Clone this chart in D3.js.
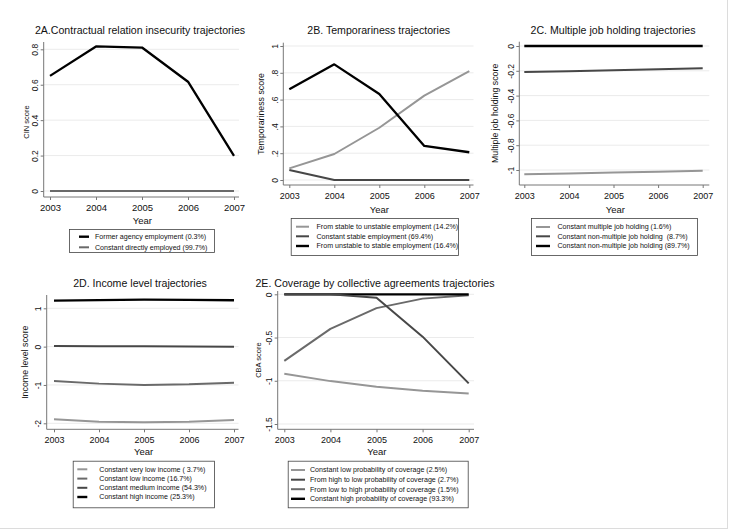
<!DOCTYPE html>
<html>
<head>
<meta charset="utf-8">
<script src="https://cdn.jsdelivr.net/npm/d3@7"></script>
<style>
html,body{margin:0;padding:0;background:#fff;}
svg{display:block;font-family:"Liberation Sans",Arial,sans-serif;}
text{white-space:pre;}
</style>
</head>
<body>
<svg id="chart" width="729" height="530"></svg>
<script>
// ---------- DATA ----------
const years = [2003, 2004, 2005, 2006, 2007];

// 2A
const aTitle = "2A.Contractual relation insecurity trajectories";
const aYLabel = "CIN score";
const aTicks = [0, 0.2, 0.4, 0.6, 0.8];
const aTickLabels = ["0", "0.2", "0.4", "0.6", "0.8"];
const aFormerAgency = [0.65, 0.816, 0.81, 0.617, 0.198];
const aDirect = [0, 0, 0, 0, 0];
const aLegend = ["Former agency employment (0.3%)", "Constant directly employed (99.7%)"];

// 2B
const bTitle = "2B. Temporariness trajectories";
const bYLabel = "Temporariness score";
const bTicks = [0, 0.2, 0.4, 0.6, 0.8, 1];
const bTickLabels = ["0", ".2", ".4", ".6", ".8", "1"];
const bStableToUnstable = [0.087, 0.194, 0.39, 0.63, 0.813];
const bConstantStable = [0.075, 0, 0, 0, 0];
const bUnstableToStable = [0.677, 0.863, 0.642, 0.254, 0.207];
const bLegend = ["From stable to unstable employment (14.2%)", "Constant stable employment (69.4%)", "From unstable to stable employment (16.4%)"];

// 2C
const cTitle = "2C. Multiple job holding trajectories";
const cYLabel = "Multiple job holding score";
const cTicks = [0, -0.2, -0.4, -0.6, -0.8, -1];
const cTickLabels = ["0", "-0.2", "-0.4", "-0.6", "-0.8", "-1"];
const cMultiple = [-1.035, -1.028, -1.021, -1.014, -1.006];
const cNonMultipleSmall = [-0.21, -0.203, -0.196, -0.188, -0.18];
const cNonMultipleLarge = [0, 0, 0, 0, 0];
const cLegend = ["Constant multiple job holding (1.6%)", "Constant non-multiple job holding  (8.7%)", "Constant non-multiple job holding (89.7%)"];

// 2D
const dTitle = "2D. Income level trajectories";
const dYLabel = "Income level score";
const dTicks = [1, 0, -1, -2];
const dTickLabels = ["1", "0", "-1", "-2"];
const dVeryLow = [-1.896, -1.957, -1.974, -1.957, -1.913];
const dLow = [-0.896, -0.965, -1.0, -0.983, -0.94];
const dMedium = [0.017, 0.012, 0.008, 0.004, 0.0];
const dHigh = [1.2, 1.215, 1.226, 1.22, 1.21];
const dLegend = ["Constant very low income ( 3.7%)", "Constant low income (16.7%)", "Constant medium income (54.3%)", "Constant high income (25.3%)"];

// 2E
const eTitle = "2E. Coverage by collective agreements trajectories";
const eYLabel = "CBA score";
const eTicks = [0, -0.5, -1, -1.5];
const eTickLabels = ["0", "-0.5", "-1", "-1.5"];
const eLowProb = [-0.919, -1.004, -1.07, -1.116, -1.147];
const eHighToLow = [0, 0, -0.04, -0.49, -1.03];
const eLowToHigh = [-0.77, -0.40, -0.16, -0.05, -0.01];
const eHighProb = [0, 0, 0, 0, 0];
const eLegend = ["Constant low probability of coverage (2.5%)", "From high to low probability of coverage (2.7%)", "From low to high probability of coverage (1.5%)", "Constant high probability of coverage (93.3%)"];

// ---------- STYLE ----------
const C_BLACK = "#000", C_DARK = "#474747", C_MID = "#6a6a6a", C_LIGHT = "#969696";

const panels = [
  { title: aTitle, ylab: aYLabel, ticks: aTicks, tickLabels: aTickLabels,
    series: [aFormerAgency, aDirect], colors: [C_BLACK, C_MID], drawOrder: [1, 0],
    legend: aLegend,
    layout: { x0: 50, x1: 234, yv: [0, 0.8], yp: [191, 49.3], left: 43.7, right: 239, top: 42, bottom: 197,
      titleX: 140, titleY: 34, yTitleX: 26, yTitleY: 122, yTitleFont: 7.5, xTickY: 208, xTitleY: 223.5, yTickFont: 8.5, xTickFont: 9.5,
      leg: { x0: 69, x1: 214, y0: 229, y1: 252, keyX0: 79, keyX1: 89, textX: 95, rowY: [236.7, 247.3] } } },
  { title: bTitle, ylab: bYLabel, ticks: bTicks, tickLabels: bTickLabels,
    series: [bStableToUnstable, bConstantStable, bUnstableToStable], colors: [C_LIGHT, C_DARK, C_BLACK], drawOrder: [1, 0, 2],
    legend: bLegend,
    layout: { x0: 289.3, x1: 469.3, yv: [0, 1], yp: [180, 46], left: 283.3, right: 473.5, top: 42.7, bottom: 185,
      titleX: 378.7, titleY: 34, yTitleX: 261, yTitleY: null, yTitleFont: 8.8, xTickY: 195.5, xTitleY: 212.5, yTickFont: 8.5, xTickFont: 9,
      leg: { x0: 290.7, x1: 458, y0: 218, y1: 255, keyX0: 296, keyX1: 309, textX: 316.5, rowY: [226.7, 236.3, 246] } } },
  { title: cTitle, ylab: cYLabel, ticks: cTicks, tickLabels: cTickLabels,
    series: [cMultiple, cNonMultipleSmall, cNonMultipleLarge], colors: [C_LIGHT, C_DARK, C_BLACK], drawOrder: [0, 1, 2],
    legend: cLegend,
    layout: { x0: 524.3, x1: 702.7, yv: [0, -1], yp: [46, 170], left: 519.3, right: 709.3, top: 41.7, bottom: 185,
      titleX: 613, titleY: 34, yTitleX: 495, yTitleY: null, yTitleFont: 8.8, xTickY: 196, xTitleY: 212.5, yTickFont: 8.5, xTickFont: 9,
      leg: { x0: 531, x1: 697, y0: 218, y1: 255, keyX0: 536, keyX1: 550, textX: 557.5, rowY: [227, 236.3, 246] } } },
  { title: dTitle, ylab: dYLabel, ticks: dTicks, tickLabels: dTickLabels,
    series: [dVeryLow, dLow, dMedium, dHigh], colors: [C_LIGHT, C_MID, C_DARK, C_BLACK], drawOrder: [0, 1, 2, 3],
    legend: dLegend,
    layout: { x0: 54, x1: 234, yv: [1, -2], yp: [308.3, 423.3], left: 46.7, right: 238.5, top: 295, bottom: 429.3,
      titleX: 140, titleY: 287, yTitleX: 25, yTitleY: null, yTitleFont: 8.8, xTickY: 440, xTitleY: 455, yTickFont: 8.5, xTickFont: 9,
      leg: { x0: 72.7, x1: 214, y0: 460.7, y1: 507.3, keyX0: 77.3, keyX1: 87.3, textX: 99.3, rowY: [469.3, 478.6, 487.8, 497] } } },
  { title: eTitle, ylab: eYLabel, ticks: eTicks, tickLabels: eTickLabels,
    series: [eLowProb, eHighToLow, eLowToHigh, eHighProb], colors: [C_LIGHT, C_DARK, C_MID, C_BLACK], drawOrder: [0, 2, 3, 1],
    legend: eLegend,
    layout: { x0: 284.3, x1: 468.7, yv: [0, -1.5], yp: [294.3, 424], left: 277.7, right: 474, top: 291, bottom: 429.3,
      titleX: 375, titleY: 287, yTitleX: 258, yTitleY: null, yTitleFont: 7.5, xTickY: 440, xTitleY: 455, yTickFont: 8.5, xTickFont: 9,
      leg: { x0: 287.7, x1: 467.7, y0: 460.7, y1: 507.3, keyX0: 291, keyX1: 305, textX: 310, rowY: [470, 479.7, 489.2, 498.8] } } }
];

const svg = d3.select("#chart");
svg.append("rect").attr("width", 729).attr("height", 530).attr("fill", "#fff");

// faint outer frame (right & bottom)
svg.append("line").attr("x1", 727.5).attr("x2", 727.5).attr("y1", 0).attr("y2", 529).attr("stroke", "#dcdcdc");
svg.append("line").attr("x1", 0).attr("x2", 728).attr("y1", 528.5).attr("y2", 528.5).attr("stroke", "#dcdcdc");

panels.forEach(p => {
  const L = p.layout;
  const g = svg.append("g");

  // scales
  const xs = d3.scaleLinear().domain([years[0], years[years.length - 1]]).range([L.x0, L.x1]);
  const xFull = d3.scaleLinear().domain([xs.invert(L.left), xs.invert(L.right)]).range([L.left, L.right]);
  const ys0 = d3.scaleLinear().domain(L.yv).range(L.yp);
  const ys = d3.scaleLinear().domain([ys0.invert(L.bottom), ys0.invert(L.top)]).range([L.bottom, L.top]);

  // grid lines
  g.append("g").selectAll("line").data(p.ticks).join("line")
    .attr("x1", L.left).attr("x2", L.right)
    .attr("y1", d => ys(d)).attr("y2", d => ys(d))
    .attr("stroke", "#ebebeb").attr("stroke-width", 1);

  // x axis
  const xAxis = d3.axisBottom(xFull).tickValues(years).tickFormat(d3.format("d")).tickSize(3).tickPadding(3);
  const gx = g.append("g").attr("transform", `translate(0,${L.bottom})`).call(xAxis);
  gx.select(".domain").attr("stroke", "#777").attr("d", `M${L.left},0H${L.right}`);
  gx.selectAll(".tick line").attr("stroke", "#777");
  gx.selectAll(".tick text").attr("fill", "#111").attr("font-size", L.xTickFont)
    .attr("font-family", "Liberation Sans, Arial, sans-serif")
    .attr("y", L.xTickY - L.bottom).attr("dy", "0.35em");

  // y axis
  const yAxis = d3.axisLeft(ys).tickValues(p.ticks).tickFormat((d, i) => p.tickLabels[i]).tickSize(3).tickPadding(3);
  const gy = g.append("g").attr("transform", `translate(${L.left},0)`).call(yAxis);
  gy.select(".domain").attr("stroke", "#777").attr("d", `M0,${L.top}V${L.bottom}`);
  gy.selectAll(".tick line").attr("stroke", "#777");
  gy.selectAll(".tick text").attr("fill", "#111").attr("font-size", L.yTickFont)
    .attr("font-family", "Liberation Sans, Arial, sans-serif")
    .attr("x", 0).attr("y", -5.5).attr("dy", null)
    .attr("text-anchor", "middle")
    .attr("transform", "rotate(-90)");

  // axis titles
  g.append("text").attr("x", (L.left + L.right) / 2 + 1).attr("y", L.xTitleY)
    .attr("text-anchor", "middle").attr("font-size", 9.5).attr("fill", "#111").text("Year");
  const yty = L.yTitleY != null ? L.yTitleY : (L.top + L.bottom) / 2;
  g.append("text")
    .attr("transform", `translate(${L.yTitleX},${yty}) rotate(-90)`)
    .attr("text-anchor", "middle").attr("dy", "0.35em").attr("font-size", L.yTitleFont).attr("fill", "#111").text(p.ylab);

  // title
  g.append("text").attr("x", L.titleX).attr("y", L.titleY).attr("text-anchor", "middle")
    .attr("font-size", 10.6).attr("fill", "#111").text(p.title);

  // lines
  const line = d3.line().x((d, i) => xs(years[i])).y(d => ys(d));
  p.drawOrder.forEach(k => {
    g.append("path").datum(p.series[k]).attr("d", line)
      .attr("fill", "none").attr("stroke", p.colors[k])
      .attr("stroke-width", p.colors[k] === C_BLACK ? 2.3 : 2)
      .attr("stroke-linejoin", "round");
  });

  // legend
  const lg = L.leg;
  g.append("rect").attr("x", lg.x0 + 0.5).attr("y", lg.y0 + 0.5)
    .attr("width", lg.x1 - lg.x0).attr("height", lg.y1 - lg.y0)
    .attr("fill", "#fff").attr("stroke", "#444").attr("stroke-width", 0.8);
  p.legend.forEach((lab, i) => {
    g.append("line").attr("x1", lg.keyX0).attr("x2", lg.keyX1)
      .attr("y1", lg.rowY[i]).attr("y2", lg.rowY[i])
      .attr("stroke", p.colors[i]).attr("stroke-width", p.colors[i] === C_BLACK ? 2.4 : 2);
    g.append("text").attr("x", lg.textX).attr("y", lg.rowY[i]).attr("dy", "0.35em")
      .attr("font-size", 7.1).attr("fill", "#111").text(lab);
  });
});
</script>
</body>
</html>
